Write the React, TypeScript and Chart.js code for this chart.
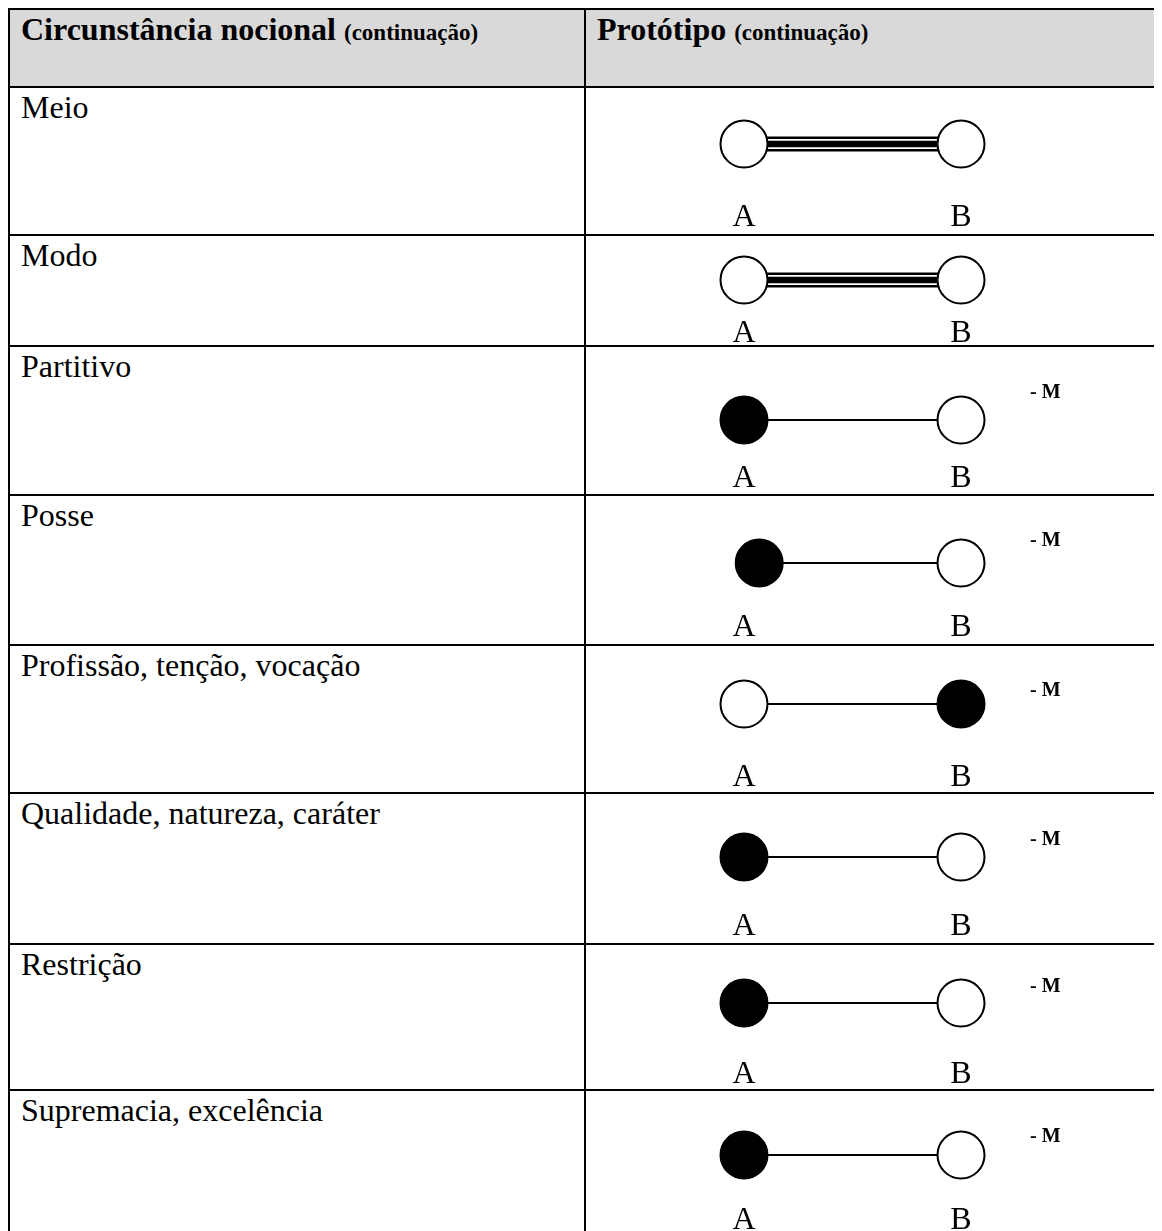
import React, { useEffect, useRef } from 'react';
import { Chart, registerables } from 'chart.js';

Chart.register(...registerables);

// ---------- data ----------
const headerLeft = 'Circunstância nocional';
const headerLeftNote = '(continuação)';
const headerRight = 'Protótipo';
const headerRightNote = '(continuação)';

const circumstances = [
  'Meio',
  'Modo',
  'Partitivo',
  'Posse',
  'Profissão, tenção, vocação',
  'Qualidade, natureza, caráter',
  'Restrição',
  'Supremacia, excelência',
];

const nodeLabels = ['A', 'B'];
const nodeTicks = [0, 1];
const nodeAPos = [0, 0, 0, 0.07, 0, 0, 0, 0];
const nodeBPos = [1, 1, 1, 1, 1, 1, 1, 1];
const filledA = [false, false, true, true, false, true, true, true];
const filledB = [false, false, false, false, true, false, false, false];
const linkKinds = ['triple', 'triple', 'single', 'single', 'single', 'single', 'single', 'single'];
const markers = ['', '', '- M', '- M', '- M', '- M', '- M', '- M'];

// ---------- layout ----------
const SERIF = '"Liberation Serif", "Times New Roman", serif';
const ROW_LINES = [8, 86, 234, 345, 494, 644, 792, 943, 1089, 1236];
const NODE_CENTER_Y = [144, 280, 420, 563, 704, 857, 1003, 1155];
const LABEL_BASELINE = [226, 342, 487, 636, 786, 935, 1083, 1229];
const MARKER_BASELINE = [0, 0, 398, 546, 696, 845, 992, 1142];
const RIGHT_CELL_X = 586;
const A_PX = 744;
const B_PX = 961;
const MARKER_X = 1030;
const CANVAS_W = 576;
const TICK_FONT = 32;
const TICK_BASE_OFFSET = 10.5; // canvas bottom -> label baseline

function Diagram({ index, height, cy }: { index: number; height: number; cy: number }) {
  const ref = useRef<HTMLCanvasElement>(null);
  useEffect(() => {
    if (!ref.current) return;
    const unit = B_PX - A_PX;
    const origin = A_PX - RIGHT_CELL_X;
    const xMin = -origin / unit;
    const xMax = (CANVAS_W - origin) / unit;
    const axisH = TICK_FONT * 1.2;
    const areaB = height - axisH;
    const nodes = [
      { x: nodeAPos[index], y: 0 },
      { x: nodeBPos[index], y: 0 },
    ];
    const fills = [filledA[index] ? '#000' : '#fff', filledB[index] ? '#000' : '#fff'];
    const link = (w: number, c: string, order: number) => ({
      type: 'scatter' as const,
      data: nodes,
      showLine: true,
      borderColor: c,
      borderWidth: w,
      pointRadius: 0,
      pointHoverRadius: 0,
      order,
      clip: false as any,
    });
    const links =
      linkKinds[index] === 'triple'
        ? [link(15, '#000', 3), link(10, '#fff', 2), link(6.5, '#000', 1)]
        : [link(1.8, '#000', 1)];
    const chart = new Chart(ref.current, {
      type: 'scatter',
      data: {
        datasets: [
          {
            data: nodes,
            showLine: false,
            pointRadius: 23.5,
            pointHoverRadius: 23.5,
            pointBackgroundColor: fills,
            pointBorderColor: '#000',
            pointBorderWidth: 2,
            order: 0,
            clip: false as any,
          },
          ...links,
        ] as any,
      },
      options: {
        animation: false,
        responsive: false,
        events: [],
        layout: { padding: 0, autoPadding: false },
        plugins: { legend: { display: false }, tooltip: { enabled: false } },
        scales: {
          x: {
            type: 'linear',
            min: xMin,
            max: xMax,
            grid: { display: false, drawTicks: false },
            border: { display: false },
            afterBuildTicks: (s: any) => {
              s.ticks = nodeTicks.map((v) => ({ value: v }));
            },
            ticks: {
              autoSkip: false,
              maxRotation: 0,
              padding: 0,
              color: '#000',
              font: { family: SERIF, size: TICK_FONT },
              callback: (_v: any, i: number) => nodeLabels[i],
            },
          },
          y: { display: false, min: cy - areaB, max: cy },
        },
      },
    });
    return () => chart.destroy();
  }, [index, height, cy]);
  return (
    <canvas
      ref={ref}
      width={CANVAS_W}
      height={height}
      style={{ display: 'block', position: 'absolute', left: 0, top: 0 }}
    />
  );
}

function Row({
  line,
  next,
  bg,
  left,
  right,
}: {
  line: number;
  next: number;
  bg?: string;
  left: React.ReactNode;
  right: React.ReactNode;
}) {
  return (
    <div
      style={{
        position: 'absolute',
        top: line - 8,
        left: 0,
        width: 1200,
        height: next - line,
        borderTop: '2px solid #000',
        borderLeft: '2px solid #000',
        boxSizing: 'border-box',
        background: bg || '#fff',
      }}
    >
      <div
        style={{
          position: 'absolute',
          left: 0,
          top: 0,
          width: 576,
          height: '100%',
          borderRight: '2px solid #000',
          boxSizing: 'border-box',
          padding: '1px 11px',
          fontSize: 32,
          lineHeight: 1.15,
          whiteSpace: 'nowrap',
        }}
      >
        {left}
      </div>
      <div style={{ position: 'absolute', left: 576, top: 0, width: 600, height: '100%' }}>{right}</div>
    </div>
  );
}

export default function App() {
  return (
    <div
      style={{
        position: 'relative',
        width: 1154,
        height: 1223,
        overflow: 'hidden',
        fontFamily: SERIF,
        color: '#000',
      }}
    >
      <style>{'html,body{overflow:hidden}'}</style>
      <Row
        line={ROW_LINES[0]}
        next={ROW_LINES[1]}
        bg="#d9d9d9"
        left={
          <span style={{ fontWeight: 'bold' }}>
            {headerLeft} <span style={{ fontSize: 23 }}>{headerLeftNote}</span>
          </span>
        }
        right={
          <div style={{ padding: '1px 11px', fontSize: 32, lineHeight: 1.15, fontWeight: 'bold', whiteSpace: 'nowrap' }}>
            {headerRight} <span style={{ fontSize: 23 }}>{headerRightNote}</span>
          </div>
        }
      />
      {circumstances.map((name, i) => {
        const line = ROW_LINES[i + 1];
        const next = ROW_LINES[i + 2];
        const top = line + 2;
        const canvasH = Math.round(LABEL_BASELINE[i] + TICK_BASE_OFFSET - top);
        return (
          <Row
            key={name}
            line={line}
            next={next}
            left={<span>{name}</span>}
            right={
              <div style={{ position: 'relative', width: 600, height: next - top }}>
                <Diagram index={i} height={canvasH} cy={NODE_CENTER_Y[i] - top} />
                {markers[i] ? (
                  <span
                    style={{
                      position: 'absolute',
                      left: MARKER_X - RIGHT_CELL_X,
                      top: MARKER_BASELINE[i] - top - 17,
                      fontSize: 20,
                      lineHeight: '20px',
                      fontWeight: 'bold',
                      whiteSpace: 'pre',
                    }}
                  >
                    {markers[i]}
                  </span>
                ) : null}
              </div>
            }
          />
        );
      })}
    </div>
  );
}
